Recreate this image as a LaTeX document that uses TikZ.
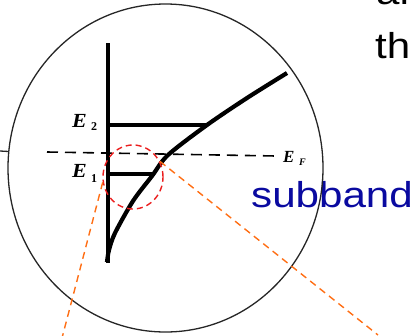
\documentclass[tikz,border=0pt]{standalone}
\usepackage{fontspec}
\setmainfont{Liberation Sans}
\newfontfamily\serifE{Liberation Serif}
\usetikzlibrary{shapes.geometric}
\definecolor{subblue}{RGB}{10,10,160}
\definecolor{zoomred}{RGB}{235,30,30}
\definecolor{leadorange}{RGB}{255,110,20}
\begin{document}
\begin{tikzpicture}[x=1pt,y=-1pt,
  outline/.style={draw=black!85, line width=1.3pt},
  band/.style={line width=4.8pt},
  bandcurve/.style={line width=4.2pt},
  fermi/.style={line width=1.6pt, dash pattern=on 11pt off 7pt},
  zoomring/.style={draw=zoomred, line width=1.4pt, dash pattern=on 6pt off 4pt, ellipse, inner sep=0pt},
  lead/.style={draw=leadorange, line width=1.4pt, dash pattern=on 7pt off 5pt},
  elabel/.style={font=\serifE\bfseries\itshape\fontsize{20}{20}\selectfont, inner sep=0pt, anchor=base west, xscale=1.1},
  sublabel/.style={font=\serifE\bfseries\fontsize{12}{12}\selectfont, inner sep=0pt, anchor=base west},
  slidetext/.style={font=\fontsize{36}{40}\selectfont, inner sep=0pt, anchor=base west, xscale=1.17}
]
\useasboundingbox (0,0) rectangle (414,335);
\clip (0,0) rectangle (414,335);

% slide text (partly cut by the frame)
\node[slidetext] (txtan) at (376,4) {an};
\node[slidetext] (txtth) at (375,58) {th};
\node[slidetext, text=subblue] (txtsub) at (251,207) {subband};

% magnifier circle
\node[outline, ellipse, minimum width=315pt, minimum height=328pt, inner sep=0pt] (lens) at (165.5,168) {};
\coordinate (tickL) at (0,151);
\draw[outline] (tickL) -- (lens.174);

% band diagram
\coordinate (wallT) at (108,43);
\coordinate (wallB) at (108,263);
\coordinate (e2L) at (108,125);
\coordinate (e2R) at (207,125);
\coordinate (e1L) at (108,174);
\coordinate (e1R) at (152,174);
\draw[band] (wallT) -- (wallB);
\draw[band] (e2L) -- (e2R);
\draw[band] (e1L) -- (e1R);
\draw[bandcurve] plot[smooth, tension=0.5] coordinates {(107,262) (109,250) (115,233) (133,201) (152,176) (168,155) (207,125) (247,98) (287,73)};

% Fermi level
\coordinate (efL) at (47,152);
\coordinate (efR) at (276,156);
\draw[fermi] (efL) -- (efR);

% labels
\node[elabel] (lE2) at (72,127) {E};
\node[sublabel] (lE2s) at (91,130) {2};
\node[elabel] (lE1) at (72,177) {E};
\node[sublabel] (lE1s) at (91,182) {1};
\node[font=\serifE\bfseries\itshape\fontsize{17}{17}\selectfont, inner sep=0pt, anchor=base west] (lEF) at (283,162) {E};
\node[font=\serifE\bfseries\itshape\fontsize{10}{10}\selectfont, inner sep=0pt, anchor=base west] (lEFs) at (299,165) {F};

% zoom ring and leads
\node[zoomring, minimum width=60pt, minimum height=64pt] (ring) at (133,177) {};
\coordinate (leadL) at (62,338);
\coordinate (leadR) at (378,335);
\draw[lead] (ring.190) -- (leadL);
\draw[lead] (ring.30) -- (leadR);
\end{tikzpicture}
\end{document}
